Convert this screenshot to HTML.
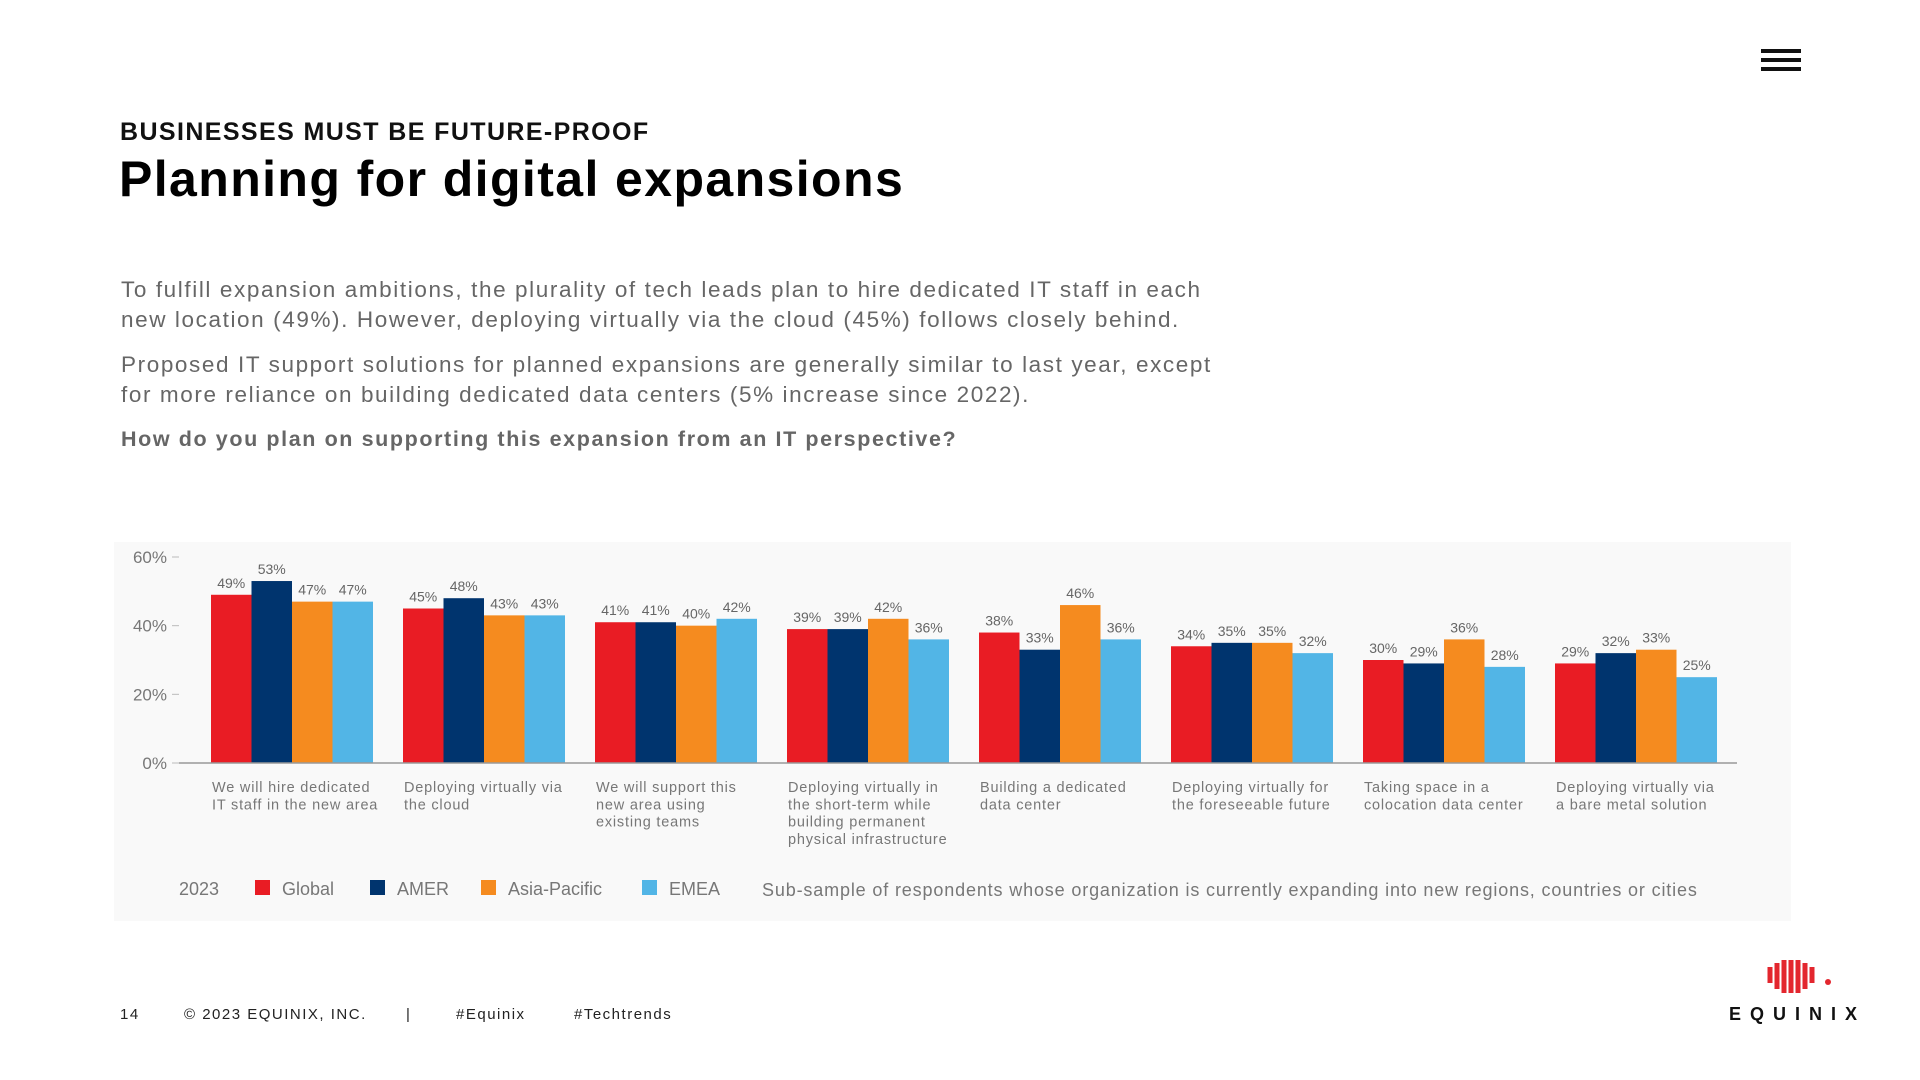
<!DOCTYPE html>
<html><head><meta charset="utf-8">
<style>
body{margin:0;width:1920px;height:1080px;background:#fff;font-family:"Liberation Sans",sans-serif;position:relative;overflow:hidden}
.abs{position:absolute}
.sub{left:120px;top:118px;font-size:25px;font-weight:bold;color:#111;letter-spacing:1.4px}
.title{left:119px;top:150px;font-size:50px;font-weight:bold;color:#000;letter-spacing:1.4px}
.body{left:121px;font-size:22.5px;color:#666;line-height:30px;letter-spacing:1.6px}
.q{left:121px;top:427px;font-size:21.5px;font-weight:bold;color:#666;letter-spacing:1.6px}
.foot{top:1006px;font-size:15px;color:#222;letter-spacing:1.5px}
</style></head><body>
<div class="abs" style="left:1761px;top:49px;width:40px;height:22px">
<div style="height:4px;background:#111;margin-bottom:5px"></div><div style="height:4px;background:#111;margin-bottom:5px"></div><div style="height:4px;background:#111"></div></div>
<div class="abs sub">BUSINESSES MUST BE FUTURE-PROOF</div>
<div class="abs title">Planning for digital expansions</div>
<div class="abs body" style="top:275px">To fulfill expansion ambitions, the plurality of tech leads plan to hire dedicated IT staff in each<br>new location (49%). However, deploying virtually via the cloud (45%) follows closely behind.</div>
<div class="abs body" style="top:350px">Proposed IT support solutions for planned expansions are generally similar to last year, except<br>for more reliance on building dedicated data centers (5% increase since 2022).</div>
<div class="abs q">How do you plan on supporting this expansion from an IT perspective?</div>
<div class="abs" style="left:114px;top:542px;width:1677px;height:379px;background:#f9f9f9"></div>
<svg class="abs" style="left:0;top:0" width="1920" height="1080" id="chart"></svg>
<div class="abs foot" style="left:120px">14</div>
<div class="abs foot" style="left:184px">© 2023 EQUINIX, INC.</div>
<div class="abs foot" style="left:406px">|</div>
<div class="abs foot" style="left:456px">#Equinix</div>
<div class="abs foot" style="left:574px">#Techtrends</div>
<svg class="abs" style="left:1725px;top:955px" width="140" height="70">
<path d="M45 28 L45 12 M52 34 L52 8 M59 38 L59 5 M66 38 L66 5 M73 38 L73 5 M80 34 L80 8 M87 28 L87 12" stroke="#e3262e" stroke-width="5" fill="none"/>
<circle cx="103" cy="27" r="3" fill="#e3262e"/>
<text x="4" y="65" font-size="18" font-weight="bold" letter-spacing="9" fill="#111" font-family="Liberation Sans, sans-serif">EQUINIX</text>
</svg>
<script>
const categories=[["We will hire dedicated","IT staff in the new area"],["Deploying virtually via","the cloud"],["We will support this","new area using","existing teams"],["Deploying virtually in","the short-term while","building permanent","physical infrastructure"],["Building a dedicated","data center"],["Deploying virtually for","the foreseeable future"],["Taking space in a","colocation data center"],["Deploying virtually via","a bare metal solution"]];
const globalVals=[49,45,41,39,38,34,30,29];
const amerVals=[53,48,41,39,33,35,29,32];
const apacVals=[47,43,40,42,46,35,36,33];
const emeaVals=[47,43,42,36,36,32,28,25];
const seriesNames=["Global","AMER","Asia-Pacific","EMEA"];
const yTicks=[0,20,40,60];
const svg=document.getElementById('chart');
const NS='http://www.w3.org/2000/svg';
const colors=["#e91c24","#00346e","#f58b1f","#52b5e6"];
const series=[globalVals,amerVals,apacVals,emeaVals];
const y0=763, pxPer=206/60;
const yScale=v=>y0-v*pxPer;
const xGroup=i=>211+i*192;
const bw=40.5;
function mk(tag,attrs,txt){const e=document.createElementNS(NS,tag);for(const k in attrs)e.setAttribute(k,attrs[k]);if(txt!==undefined)e.textContent=txt;svg.appendChild(e);return e;}
yTicks.forEach(t=>{
 const e=mk('text',{x:167,y:yScale(t)+6,'text-anchor':'end','font-size':17,fill:'#777'},t+'%');
 
 
 const l=mk('line',{x1:172,x2:179,y1:yScale(t),y2:yScale(t),stroke:'#bbb'});
 
 
});
categories.forEach((c,i)=>{
 series.forEach((s,j)=>{
  const x=xGroup(i)+j*bw, v=s[i];
  const r=mk('rect',{x:x,y:yScale(v),width:bw,height:y0-yScale(v),fill:colors[j]});
  
  
  const t=mk('text',{x:x+bw/2,y:yScale(v)-7,'text-anchor':'middle','font-size':14,fill:'#666'},v+'%');
  
  
 });
 c.forEach((line,k)=>{
  const t=mk('text',{x:xGroup(i)+1,y:792+k*17.3,'font-size':14.5,fill:'#777','letter-spacing':0.8},line);
  
  
 });
});
const ax=mk('line',{x1:179,x2:1737,y1:y0,y2:y0,stroke:'#999','stroke-width':1.5});


const ly=895;
const yr=mk('text',{x:179,y:ly,'font-size':18,fill:'#777'},'2023');


const lx=[255,370,481,642];
seriesNames.forEach((n,j)=>{
 const r=mk('rect',{x:lx[j],y:ly-15,width:15,height:15,fill:colors[j]});
 
 
 const t=mk('text',{x:lx[j]+27,y:ly,'font-size':18,fill:'#777'},n);
 
 
});
const note=mk('text',{x:762,y:ly+1,'font-size':18,fill:'#777','letter-spacing':0.85},'Sub-sample of respondents whose organization is currently expanding into new regions, countries or cities');


</script>
</body></html>
